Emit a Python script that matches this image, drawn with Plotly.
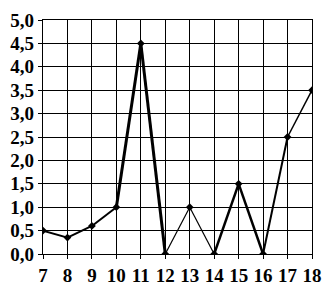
import plotly.graph_objects as go

x_vals = [7, 8, 9, 10, 11, 12, 13, 14, 15, 16, 17, 18]
y_vals = [0.5, 0.35, 0.6, 1.0, 4.5, 0.0, 1.0, 0.0, 1.5, 0.0, 2.5, 3.5]
y_ticks = [0, 0.5, 1, 1.5, 2, 2.5, 3, 3.5, 4, 4.5, 5]

seg_widths = [2, 2, 2, 3, 3, 1.2, 1.2, 2.5, 2.5, 2, 1.5]

fig = go.Figure()
for i in range(len(x_vals) - 1):
    fig.add_trace(go.Scatter(
        x=x_vals[i:i + 2], y=y_vals[i:i + 2], mode="lines",
        line=dict(color="black", width=seg_widths[i]),
        showlegend=False, hoverinfo="skip"))
fig.add_trace(go.Scatter(
    x=x_vals, y=y_vals, mode="markers",
    marker=dict(symbol="diamond", size=6, color="black"),
    showlegend=False))

tfont = dict(family="Liberation Serif", size=19, color="black", weight="bold")
fig.update_layout(
    width=332, height=296,
    margin=dict(l=39, r=10, t=10, b=29),
    paper_bgcolor="white", plot_bgcolor="white",
    separators=", ",
    font=dict(family="Liberation Serif", size=19, color="black"),
)
fig.update_xaxes(
    range=[7, 18], tickmode="array", tickvals=x_vals,
    showgrid=True, gridcolor="black", gridwidth=1.2,
    showline=True, linecolor="black", linewidth=1.2, mirror=True,
    ticks="outside", ticklen=4, tickcolor="black", tickwidth=1.2,
    tickfont=tfont,
    zeroline=False,
)
fig.update_yaxes(
    range=[0, 5], tickmode="array", tickvals=y_ticks, tickformat=".1f",
    showgrid=True, gridcolor="black", gridwidth=1.2,
    showline=True, linecolor="black", linewidth=1.2, mirror=True,
    ticks="outside", ticklen=4, tickcolor="black", tickwidth=1.2,
    tickfont=tfont,
    ticklabelstandoff=0,
    zeroline=False,
)
fig.write_html("out.html")
